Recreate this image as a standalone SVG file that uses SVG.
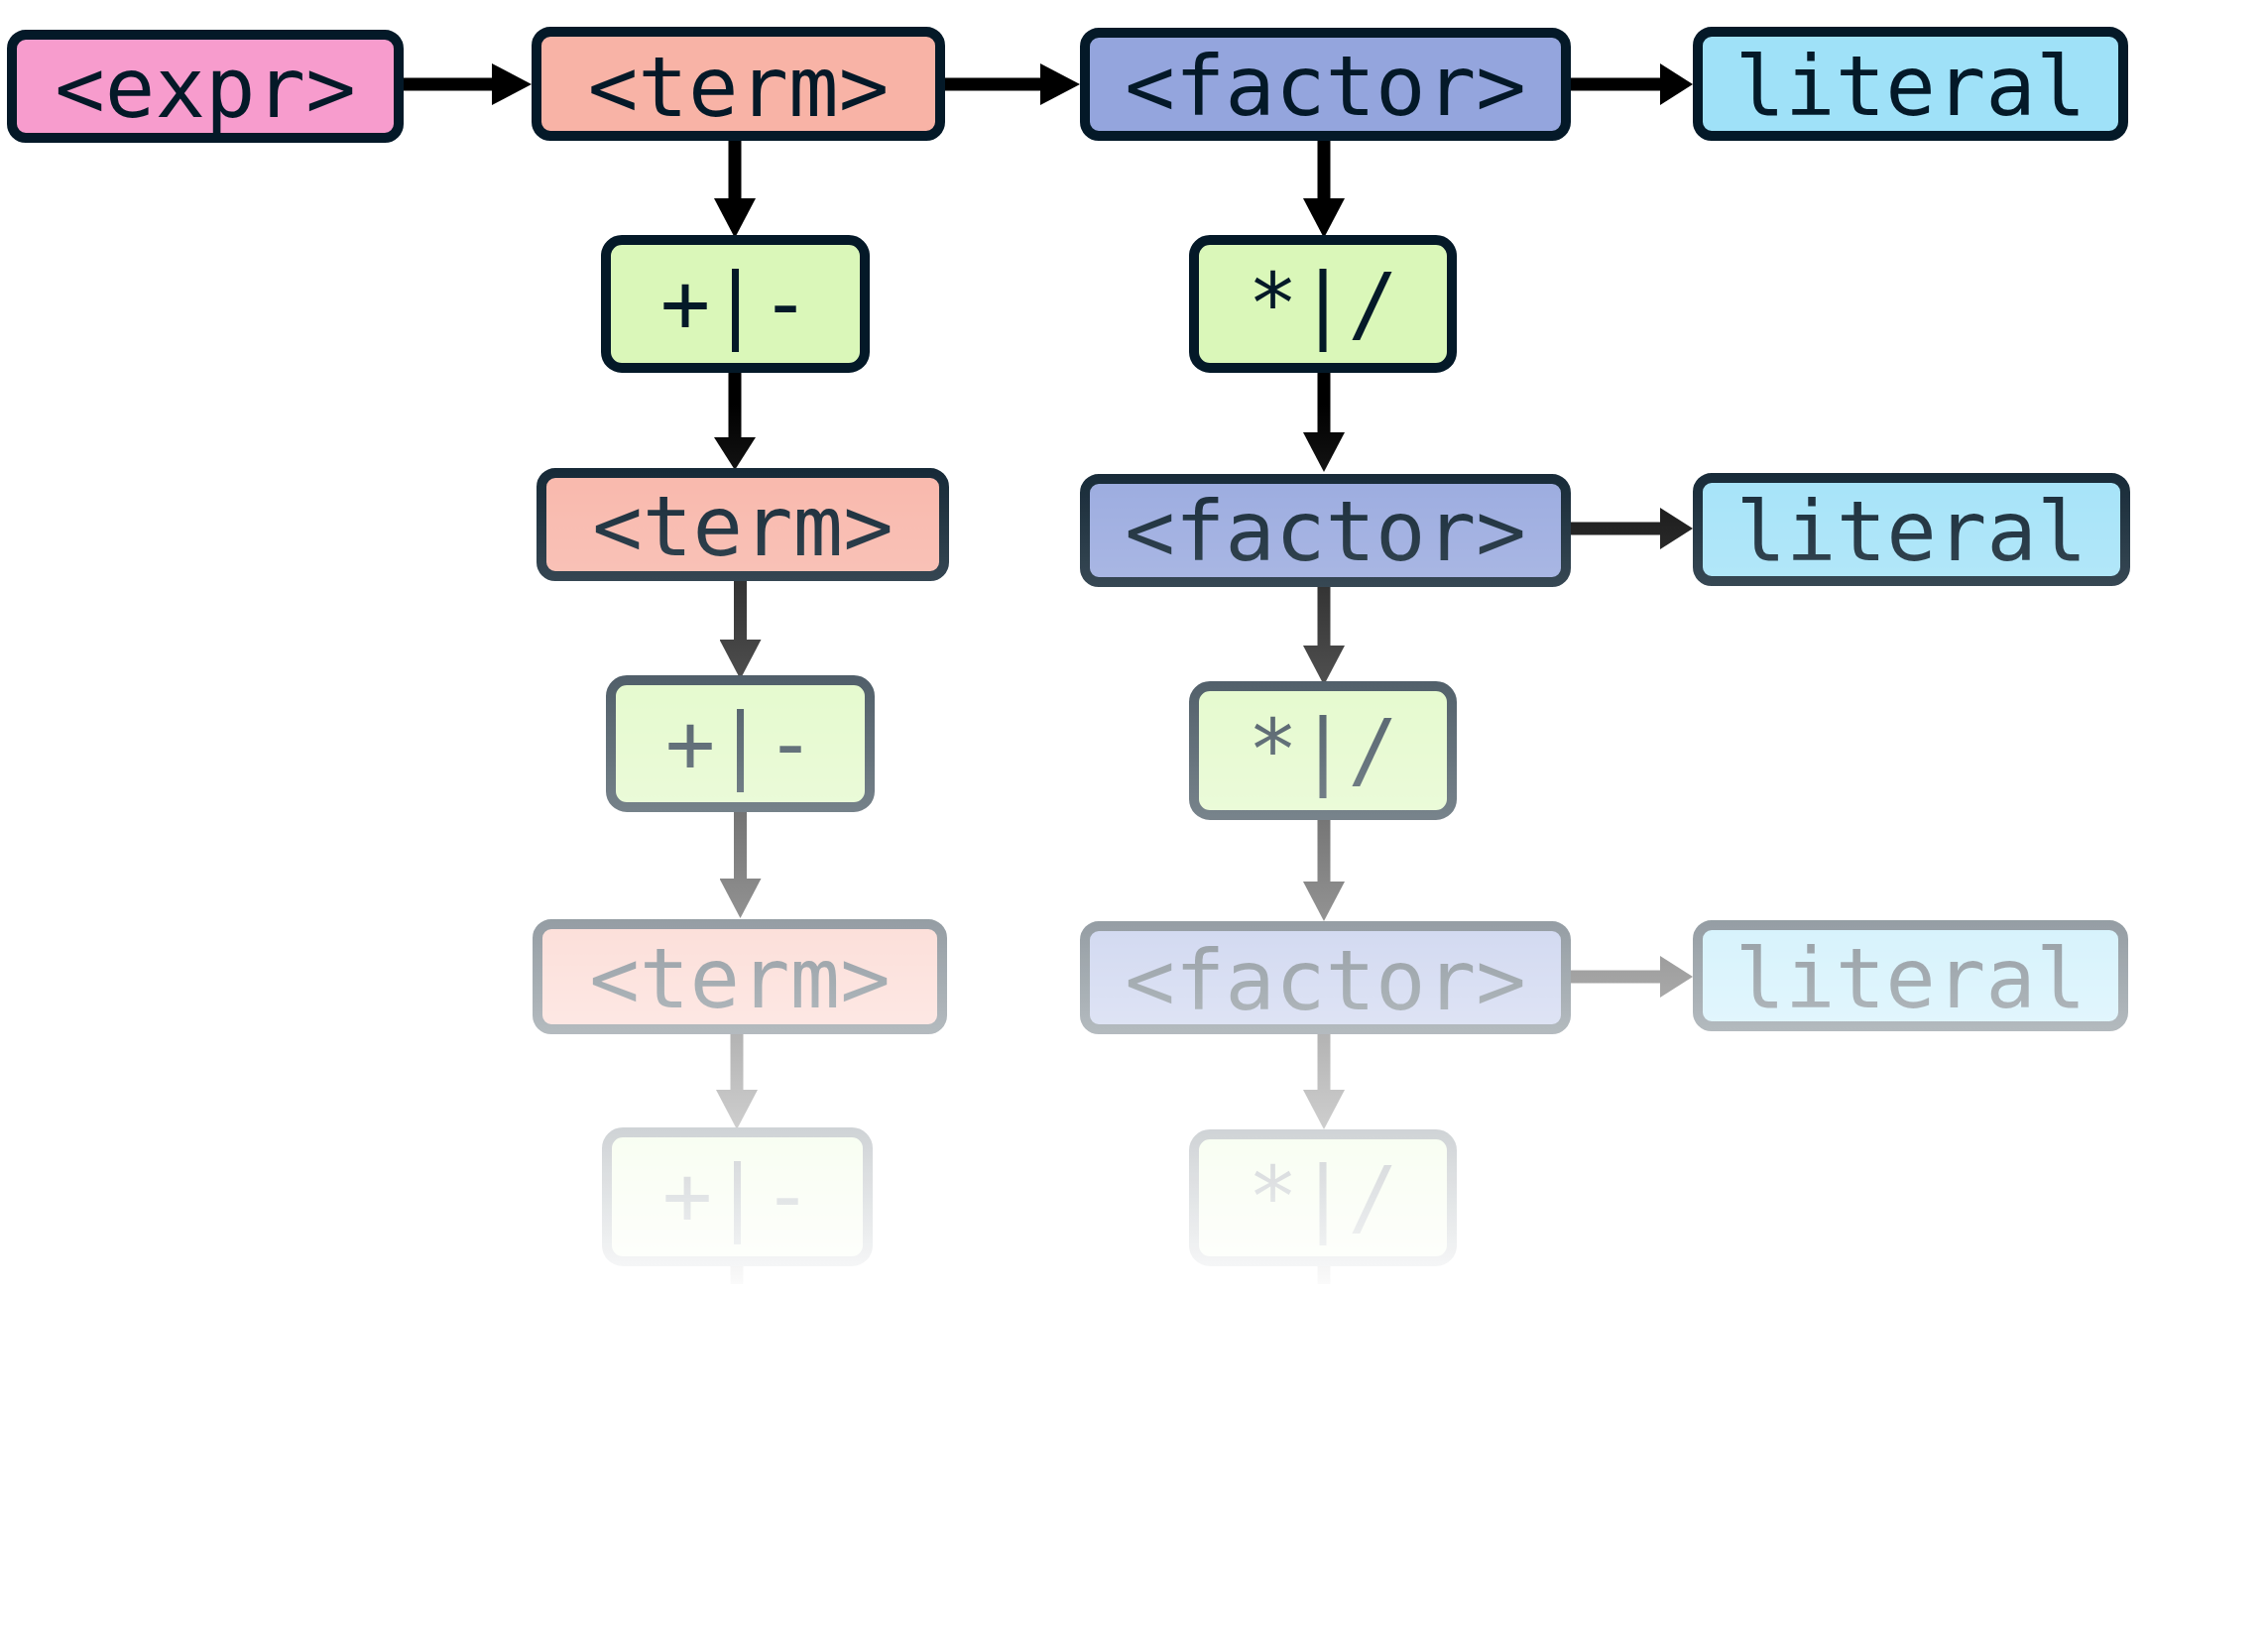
<svg xmlns="http://www.w3.org/2000/svg" width="2287" height="1663" viewBox="0 0 2287 1663">
  <style>
    .box { stroke: #041928; stroke-width: 10; }
    .expr { fill: #F79CCD; }
    .term { fill: #F8B3A6; }
    .factor { fill: #94A5DD; }
    .literal { fill: #9FE1F8; }
    .op { fill: #DAF7B9; }
    .lbl { font-family: "DejaVu Sans Mono", "Liberation Mono", monospace; font-size: 84px; fill: #041928; text-anchor: middle; }
    .conn { stroke: #000000; stroke-width: 13; fill: none; }
  </style>
  <defs>
    <marker id="arrow" markerUnits="userSpaceOnUse" markerWidth="40" markerHeight="42" refX="0" refY="21" orient="auto" viewBox="0 0 40 42">
      <path d="M0,0 L40,21 L0,42 Z" fill="#000000"/>
    </marker>
    <marker id="arrow-short" markerUnits="userSpaceOnUse" markerWidth="33" markerHeight="42" refX="0" refY="21" orient="auto" viewBox="0 0 33 42">
      <path d="M0,0 L33,21 L0,42 Z" fill="#000000"/>
    </marker>
    <linearGradient id="fadeGrad" gradientUnits="userSpaceOnUse" x1="0" y1="408" x2="0" y2="1313">
      <stop offset="0" stop-color="#ffffff" stop-opacity="1"/>
      <stop offset="1" stop-color="#ffffff" stop-opacity="0"/>
    </linearGradient>
    <mask id="fade" maskUnits="userSpaceOnUse" x="0" y="0" width="2287" height="1663">
      <rect x="0" y="0" width="2287" height="1663" fill="url(#fadeGrad)"/>
    </mask>
  </defs>
  <rect x="0" y="0" width="2287" height="1663" fill="#ffffff"/>
  <g mask="url(#fade)">
    <g id="connectors">
      <path class="conn" d="M407,85 H496" marker-end="url(#arrow)"/>
      <path class="conn" d="M953,85 H1049" marker-end="url(#arrow)"/>
      <path class="conn" d="M1584,85 H1674" marker-end="url(#arrow-short)"/>
      <path class="conn" d="M741,142 V200" marker-end="url(#arrow)"/>
      <path class="conn" d="M741,376 V441" marker-end="url(#arrow-short)"/>
      <path class="conn" d="M746.5,586 V645" marker-end="url(#arrow)"/>
      <path class="conn" d="M746.5,819 V886" marker-end="url(#arrow)"/>
      <path class="conn" d="M743,1043 V1099" marker-end="url(#arrow)"/>
      <path class="conn" d="M743,1277 V1295"/>
      <path class="conn" d="M1335,142 V200" marker-end="url(#arrow)"/>
      <path class="conn" d="M1335,376 V436" marker-end="url(#arrow)"/>
      <path class="conn" d="M1335,592 V651" marker-end="url(#arrow)"/>
      <path class="conn" d="M1584,533 H1674" marker-end="url(#arrow-short)"/>
      <path class="conn" d="M1335,827 V889" marker-end="url(#arrow)"/>
      <path class="conn" d="M1584,985 H1674" marker-end="url(#arrow-short)"/>
      <path class="conn" d="M1335,1043 V1099" marker-end="url(#arrow)"/>
      <path class="conn" d="M1335,1277 V1295"/>
    </g>
    <g id="expr">
      <rect class="box expr" x="12" y="35" width="390" height="104" rx="14"/>
      <text class="lbl" x="207" y="118">&lt;expr&gt;</text>
    </g>
    <g id="term1">
      <rect class="box term" x="541" y="32" width="407" height="105" rx="14"/>
      <text class="lbl" x="744.5" y="117">&lt;term&gt;</text>
    </g>
    <g id="factor1">
      <rect class="box factor" x="1094" y="33" width="485" height="104" rx="14"/>
      <text class="lbl" x="1336.5" y="116">&lt;factor&gt;</text>
    </g>
    <g id="literal1">
      <rect class="box literal" x="1712" y="32" width="429" height="105" rx="14"/>
      <text class="lbl" x="1926.5" y="116">literal</text>
    </g>
    <g id="addop1">
      <rect class="box op" x="611" y="242" width="261" height="129" rx="16"/>
      <text class="lbl" x="741.5" y="335">+|-</text>
    </g>
    <g id="mulop1">
      <rect class="box op" x="1204" y="242" width="260" height="129" rx="16"/>
      <text class="lbl" x="1334" y="335">*|/</text>
    </g>
    <g id="term2">
      <rect class="box term" x="546" y="477" width="406" height="104" rx="14"/>
      <text class="lbl" x="749" y="560">&lt;term&gt;</text>
    </g>
    <g id="factor2">
      <rect class="box factor" x="1094" y="483" width="485" height="104" rx="14"/>
      <text class="lbl" x="1336.5" y="565">&lt;factor&gt;</text>
    </g>
    <g id="literal2">
      <rect class="box literal" x="1712" y="482" width="431" height="104" rx="14"/>
      <text class="lbl" x="1927.5" y="565">literal</text>
    </g>
    <g id="addop2">
      <rect class="box op" x="616" y="686" width="261" height="128" rx="16"/>
      <text class="lbl" x="746.5" y="779">+|-</text>
    </g>
    <g id="mulop2">
      <rect class="box op" x="1204" y="692" width="260" height="130" rx="16"/>
      <text class="lbl" x="1334" y="785">*|/</text>
    </g>
    <g id="term3">
      <rect class="box term" x="542" y="932" width="408" height="106" rx="14"/>
      <text class="lbl" x="746" y="1016">&lt;term&gt;</text>
    </g>
    <g id="factor3">
      <rect class="box factor" x="1094" y="934" width="485" height="104" rx="14"/>
      <text class="lbl" x="1336.5" y="1018">&lt;factor&gt;</text>
    </g>
    <g id="literal3">
      <rect class="box literal" x="1712" y="933" width="429" height="102" rx="14"/>
      <text class="lbl" x="1926.5" y="1016">literal</text>
    </g>
    <g id="addop3">
      <rect class="box op" x="612" y="1142" width="263" height="130" rx="16"/>
      <text class="lbl" x="743.5" y="1235">+|-</text>
    </g>
    <g id="mulop3">
      <rect class="box op" x="1204" y="1144" width="260" height="128" rx="16"/>
      <text class="lbl" x="1334" y="1236">*|/</text>
    </g>
  </g>
</svg>
